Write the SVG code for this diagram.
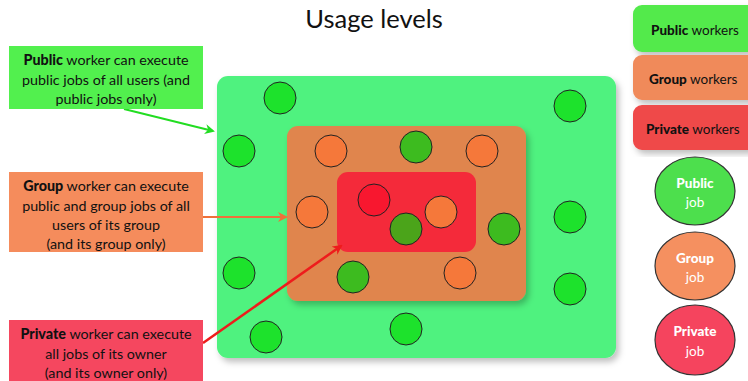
<svg xmlns="http://www.w3.org/2000/svg" width="748" height="381" viewBox="0 0 748 381">
<defs>
<filter id="sh" x="-10%" y="-10%" width="125%" height="125%">
<feDropShadow dx="3" dy="4" stdDeviation="3" flood-color="#000" flood-opacity="0.25"/>
</filter>
<marker id="ag" markerWidth="10" markerHeight="10" refX="8" refY="5" orient="auto" markerUnits="userSpaceOnUse"><path d="M0,0 L10,5 L0,10 L3,5 Z" fill="#22dd22"/></marker>
<marker id="ao" markerWidth="10" markerHeight="10" refX="8" refY="5" orient="auto" markerUnits="userSpaceOnUse"><path d="M0,0 L10,5 L0,10 L3,5 Z" fill="#f0703a"/></marker>
<marker id="ar" markerWidth="10" markerHeight="10" refX="8" refY="5" orient="auto" markerUnits="userSpaceOnUse"><path d="M0,0 L10,5 L0,10 L3,5 Z" fill="#ee1c1c"/></marker>
</defs>
<style>
text{font-family:"Lato","Liberation Sans",sans-serif;fill:#111;}
.t{font-size:14.3px;text-anchor:middle;}
.b{font-weight:900;}
.title{font-size:25.5px;text-anchor:middle;}
.lg{font-size:13.5px;}
.jt{font-size:13.5px;text-anchor:middle;fill:#fff;}
.c{stroke:#222;stroke-width:1;}
.cg{fill:#1de22c;}
.cg2{fill:#3dbb1f;}
.cg3{fill:#4ba41a;}
.co{fill:#f5783a;}
.cr{fill:#f8172f;}
.je{stroke:#333;stroke-width:1.2;}
</style>
<rect width="748" height="381" fill="#fff"/>
<text class="title" x="374" y="28">Usage levels</text>

<g id="public-zone">
<rect x="217" y="76" width="399" height="282" rx="11" fill="#4ff27f" filter="url(#sh)"/>
</g>
<g id="group-zone">
<rect x="287" y="126" width="239" height="175" rx="11" fill="#e0854e" filter="url(#sh)"/>
</g>
<g id="private-zone">
<rect x="337" y="172" width="139" height="80" rx="11" fill="#f42a3a"/>
</g>

<g id="jobs">
<circle class="c cg" cx="280" cy="98" r="16"/>
<circle class="c cg" cx="239" cy="151" r="16"/>
<circle class="c cg" cx="570" cy="106" r="16"/>
<circle class="c cg" cx="239" cy="273" r="16"/>
<circle class="c cg" cx="266" cy="337" r="16"/>
<circle class="c cg" cx="406" cy="329" r="16"/>
<circle class="c cg" cx="570" cy="217" r="16"/>
<circle class="c cg" cx="570" cy="289" r="16"/>
<circle class="c co" cx="331" cy="151" r="16"/>
<circle class="c co" cx="482" cy="151" r="16"/>
<circle class="c co" cx="312" cy="212" r="16"/>
<circle class="c co" cx="460" cy="273" r="16"/>
<circle class="c cg2" cx="416" cy="147" r="16"/>
<circle class="c cg2" cx="504" cy="229" r="16"/>
<circle class="c cg2" cx="353" cy="277" r="16"/>
<circle class="c cr" cx="374" cy="200" r="16"/>
<circle class="c co" cx="441" cy="212" r="16"/>
<circle class="c cg3" cx="406" cy="229" r="16"/>
</g>

<g id="connectors">
<line x1="124" y1="109" x2="213" y2="131" stroke="#22dd22" stroke-width="2" marker-end="url(#ag)"/>
<line x1="203" y1="217" x2="286" y2="217" stroke="#f0703a" stroke-width="2" marker-end="url(#ao)"/>
<line x1="203" y1="343" x2="341" y2="246" stroke="#ee1c1c" stroke-width="2.5" marker-end="url(#ar)"/>
</g>

<g id="public-note">
<rect x="9" y="46" width="194" height="63" fill="#52f04e"/>
<text class="t" x="106" y="65"><tspan class="b">Public</tspan> worker can execute</text>
<text class="t" x="106" y="85">public jobs of all users (and</text>
<text class="t" x="106" y="104">public jobs only)</text>
</g>
<g id="group-note">
<rect x="9" y="172" width="194" height="80" fill="#f58c5c"/>
<text class="t" x="106" y="191"><tspan class="b">Group</tspan> worker can execute</text>
<text class="t" x="106" y="211">public and group jobs of all</text>
<text class="t" x="106" y="230">users of its group</text>
<text class="t" x="106" y="249">(and its group only)</text>
</g>
<g id="private-note">
<rect x="9" y="320" width="194" height="64" fill="#f5475f"/>
<text class="t" x="106" y="339"><tspan class="b">Private</tspan> worker can execute</text>
<text class="t" x="106" y="359">all jobs of its owner</text>
<text class="t" x="106" y="378">(and its owner only)</text>
</g>

<g id="legend-public-workers">
<rect x="633" y="5" width="125" height="47" rx="9" fill="#52ea4c" filter="url(#sh)"/>
<text class="lg" x="651" y="35"><tspan class="b">Public</tspan> workers</text>
</g>
<g id="legend-group-workers">
<rect x="633" y="55" width="125" height="45" rx="9" fill="#f08a5a" filter="url(#sh)"/>
<text class="lg" x="649" y="84"><tspan class="b">Group</tspan> workers</text>
</g>
<g id="legend-private-workers">
<rect x="633" y="105" width="125" height="45" rx="9" fill="#ef4848" filter="url(#sh)"/>
<text class="lg" x="646" y="134"><tspan class="b">Private</tspan> workers</text>
</g>
<g id="legend-public-job">
<ellipse class="je" cx="695" cy="191" rx="40" ry="34" fill="#4ddf4d"/>
<text class="jt b" x="695" y="188">Public</text>
<text class="jt" x="695" y="207">job</text>
</g>
<g id="legend-group-job">
<ellipse class="je" cx="695" cy="266" rx="40" ry="34" fill="#f59060"/>
<text class="jt b" x="695" y="263">Group</text>
<text class="jt" x="695" y="282">job</text>
</g>
<g id="legend-private-job">
<ellipse class="je" cx="695" cy="340" rx="40" ry="35" fill="#f5445e"/>
<text class="jt b" x="695" y="336">Private</text>
<text class="jt" x="695" y="356">job</text>
</g>
</svg>
